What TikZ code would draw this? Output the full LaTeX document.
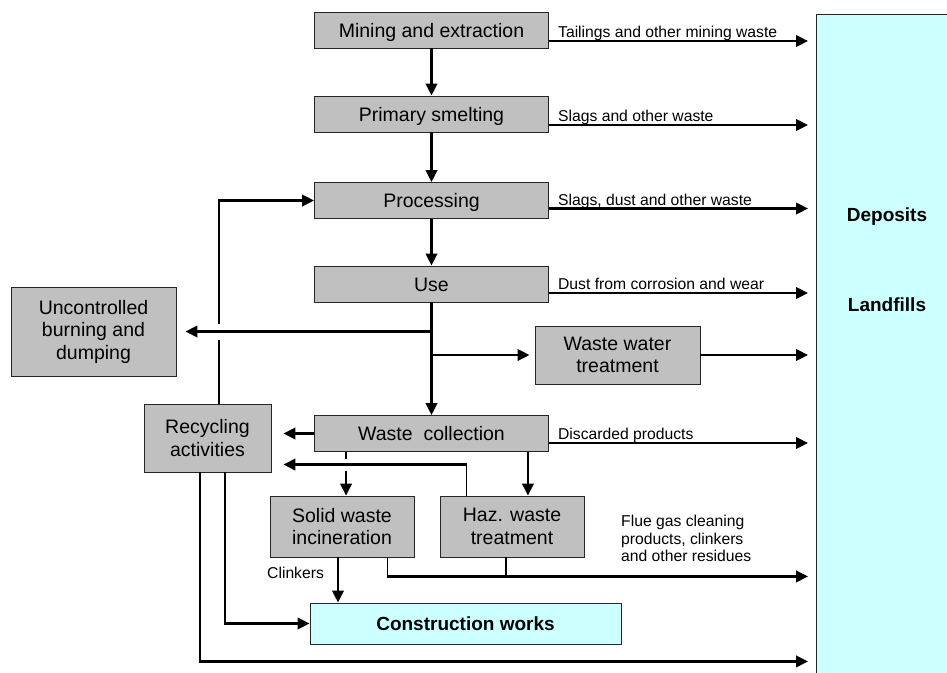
\documentclass[tikz,border=0pt]{standalone}
\usepackage{fontspec}
\setmainfont{Liberation Sans}
\usetikzlibrary{arrows.meta,calc}
\definecolor{boxgray}{HTML}{C0C0C0}
\definecolor{lcyan}{HTML}{CCFFFF}
\begin{document}
\begin{tikzpicture}[x=1pt,y=-1pt,
  box/.style={draw=black!85, line width=0.9pt, fill=boxgray, align=center, inner sep=0pt,
    font=\fontsize{19.5}{22.5}\selectfont},
  mainbox/.style={box, minimum width=234pt, minimum height=36pt, text height=14pt, text depth=0pt},
  flow/.style={line width=2.4pt, -{Triangle[length=12pt,width=11.5pt]}},
  thinline/.style={line width=1.2pt},
  lbl/.style={font=\fontsize{15.7}{17.5}\selectfont, inner sep=0pt, anchor=base west},
  hop/.style={preaction={draw=white, line width=#1, -, shorten >=14pt}}
]
\useasboundingbox (0,0) rectangle (947,672);

% deposits / landfills
\node[draw=black!85, fill=lcyan, line width=0.9pt, minimum width=140pt, minimum height=670pt,
  inner sep=0pt, anchor=north west] (dep) at (816,14) {};
\node[font=\bfseries\fontsize{19}{22}\selectfont, inner sep=0pt] (deptxt) at (887,217) {Deposits};
\node[font=\bfseries\fontsize{19}{22}\selectfont, inner sep=0pt] (landtxt) at (887,305) {Landfills};

% main chain
\node[mainbox] (mine) at (431.5,30) {Mining and extraction};
\node[mainbox] (smelt) at (431.5,114) {Primary smelting};
\node[mainbox] (proc) at (431.5,200.5) {Processing};
\node[mainbox] (use) at (431.5,284) {Use};
\node[mainbox] (wc) at (431.5,433.5) {Waste~ collection};

\node[box, minimum width=165pt, minimum height=89pt] (unc) at (93.5,331.5) {Uncontrolled\\burning and\\dumping};
\node[box, minimum width=127pt, minimum height=68pt] (recyc) at (207.5,438) {Recycling\\activities};
\node[box, minimum width=165pt, minimum height=58pt] (ww) at (617.5,355) {Waste water\\treatment};
\node[box, minimum width=144pt, minimum height=61pt] (swi) at (342,526.5) {Solid waste\\incineration};
\node[box, minimum width=144pt, minimum height=61pt] (haz) at (512,526.5) {Haz. waste\\treatment};
\node[box, fill=lcyan, minimum width=311pt, minimum height=41pt,
  font=\bfseries\fontsize{19}{22}\selectfont] (cons) at (465.5,623.5) {Construction works};

% vertical chain
\draw[flow] (mine) -- (smelt);
\draw[flow] (smelt) -- (proc);
\draw[flow] (proc) -- (use);

% outputs to deposits
\coordinate (m1) at ($(mine.east)+(0,11)$);
\draw[flow, shorten >=8pt] (m1) -- (m1 -| dep.west);
\node[lbl] (l1) at ($(m1)+(9,-3.5)$) {Tailings and other mining waste};

\coordinate (m2) at ($(smelt.east)+(0,11)$);
\draw[flow, shorten >=8pt] (m2) -- (m2 -| dep.west);
\node[lbl] (l2) at ($(m2)+(9,-3.5)$) {Slags and other waste};

\coordinate (m3) at ($(proc.east)+(0,8)$);
\draw[flow, shorten >=8pt] (m3) -- (m3 -| dep.west);
\node[lbl] (l3) at ($(m3)+(9,-3.5)$) {Slags, dust and other waste};

\coordinate (m4) at ($(use.east)+(0,9)$);
\draw[flow, shorten >=8pt] (m4) -- (m4 -| dep.west);
\node[lbl] (l4) at ($(m4)+(9,-3.5)$) {Dust from corrosion and wear};

\coordinate (m5) at ($(wc.east)+(0,9.5)$);
\draw[flow, shorten >=8pt] (m5) -- (m5 -| dep.west);
\node[lbl] (l5) at ($(m5)+(9,-3.5)$) {Discarded products};

% recycling back to processing
\coordinate (rbot) at ($(recyc.north)+(11.5,0)$);
\coordinate (rtop) at (rbot |- proc.west);
\draw[line width=1.5pt] (rbot) -- (rtop);
\draw[flow] ([xshift=-0.75pt]rtop) -- (proc.west);

% use branches
\coordinate (ub) at (use.south |- unc.east);
\draw[flow, hop=16pt, shorten >=9pt] (ub) -- (unc.east);
\coordinate (wb) at (use.south |- ww.west);
\draw[flow, shorten >=5pt] (wb) -- (ww.west);
\draw[flow] (use) -- (wc);
\draw[flow, shorten >=8pt] (ww.east) -- (ww.east -| dep.west);

% waste collection outputs
\draw[flow, shorten >=12pt] (wc.west) -- (wc.west -| recyc.east);
\coordinate (ws) at ($(wc.south west)+(32,0)$);
\draw[flow] (ws) -- (ws |- swi.north);
\coordinate (wh) at ($(wc.south east)+(-21,0)$);
\draw[flow] (wh) -- (wh |- haz.north);

% haz back to recycling
\coordinate (ht) at ($(haz.north west)+(27,0)$);
\coordinate (hc) at ($(ht)+(0,-31)$);
\draw[flow, hop=12pt, shorten >=12pt] ([xshift=0.6pt]hc) -- (hc -| recyc.east);
\draw[thinline] (ht) -- ($(hc)+(0,-1.2)$);

% flue gas residues
\coordinate (sb) at ($(swi.south east)+(-27,0)$);
\coordinate (sc) at ($(sb)+(0,19)$);
\draw[thinline] (sb) -- (sc);
\coordinate (hb) at ($(haz.south)+(-6,0)$);
\draw[thinline] (hb) -- (hb |- sc);
\draw[flow, shorten >=8pt] ([xshift=-0.6pt]sc) -- (sc -| dep.west);
\node[font=\fontsize{15.7}{17.5}\selectfont, inner sep=0pt, anchor=north west, align=left] (flue)
  at (621,515) {Flue gas cleaning\\products, clinkers\\and other residues};

% clinkers
\coordinate (sc2) at ($(swi.south)+(-4,0)$);
\draw[flow] (sc2) -- (sc2 |- cons.north);
\node[lbl] (clk) at (267,578.5) {Clinkers};

% recycling to construction works and deposits
\coordinate (r1) at ($(recyc.south)+(17.5,0)$);
\coordinate (r1c) at (r1 |- cons.west);
\draw[thinline] (r1) -- (r1c);
\draw[flow] ([xshift=-0.6pt]r1c) -- (cons.west);
\coordinate (r2) at ($(recyc.south)+(-7.5,0)$);
\coordinate (r2c) at ($(r2)+(0,189)$);
\draw[thinline] (r2) -- (r2c);
\draw[flow, shorten >=8pt] ([xshift=-0.6pt]r2c) -- (r2c -| dep.west);
\end{tikzpicture}
\end{document}
